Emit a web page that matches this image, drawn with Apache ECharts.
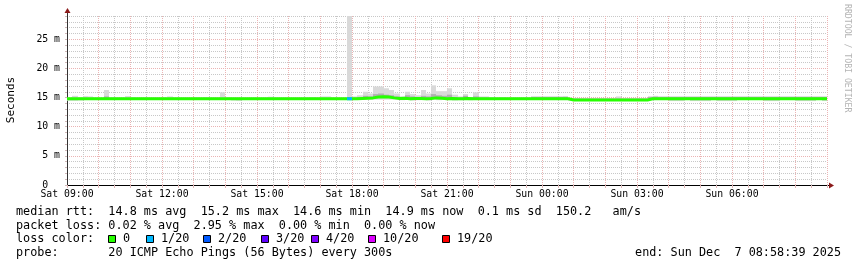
<!DOCTYPE html>
<html><head><meta charset="utf-8">
<script src="https://cdn.jsdelivr.net/npm/echarts@6/dist/echarts.min.js"></script>
<style>html,body{margin:0;padding:0;background:#fff}#c{width:857px;height:267px}</style>
</head><body><div id="c"></div>
<script>
// ---- data ----
const startMinute = 540;          // Sat 09:00, minutes after Sat 00:00
const endMinute = 1980;           // Sun 09:00
const binMinutes = 10;
const xTickLabels = ['Sat 09:00','Sat 12:00','Sat 15:00','Sat 18:00','Sat 21:00','Sun 00:00','Sun 03:00','Sun 06:00'];
const yTickStep = 5;

const median = [
 14.8,14.8,14.8,14.8,14.8,14.8,14.8,14.8,14.8,14.8,14.8,14.8,
 14.8,14.8,14.8,14.8,14.8,14.8,14.8,14.8,14.8,14.8,14.8,14.8,
 14.8,14.8,14.8,14.8,14.8,14.8,14.8,14.8,14.8,14.8,14.8,14.8,
 14.8,14.8,14.8,14.8,14.8,14.8,14.8,14.8,14.8,14.8,14.8,14.8,
 14.8,14.8,14.8,14.8,14.8,14.8,14.8,14.85,14.9,14.95,15.1,15.15,
 15.1,14.95,14.85,14.9,14.8,14.85,14.85,14.8,14.85,14.95,14.9,14.8,
 14.85,14.8,14.8,14.85,14.8,14.8,14.8,14.8,14.8,14.8,14.8,14.8,
 14.8,14.8,14.8,14.8,14.8,14.8,14.8,14.8,14.8,14.8,14.8,14.6,
 14.6,14.6,14.6,14.6,14.6,14.6,14.6,14.6,14.6,14.6,14.6,14.6,
 14.6,14.6,14.8,14.8,14.8,14.8,14.8,14.8,14.8,14.8,14.8,14.8,
 14.8,14.8,14.8,14.8,14.8,14.8,14.8,14.8,14.8,14.8,14.8,14.8,
 14.8,14.8,14.8,14.8,14.8,14.8,14.8,14.8,14.8,14.8,14.8,14.8
];
const smokeHi = [
 15.0,15.3,15.05,15.25,15.2,15.0,15.0,16.3,15.05,15.0,15.0,15.25,
 15.1,15.0,15.0,15.0,15.0,15.0,15.0,15.2,15.0,15.0,15.0,15.0,
 15.1,15.0,15.1,15.0,15.0,15.9,15.05,15.0,15.0,15.0,15.0,15.0,
 15.0,15.0,15.15,15.0,15.0,15.0,15.0,15.0,15.0,15.0,15.1,15.0,
 15.2,15.2,15.0,15.0,15.0,29.2,15.2,15.4,16.0,15.7,16.9,16.9,
 16.6,16.3,15.7,15.2,16.0,15.6,15.4,16.3,15.7,17.1,16.1,16.1,
 16.6,15.5,15.2,15.6,15.1,15.9,15.2,15.2,15.1,15.0,15.1,15.0,
 15.0,15.0,15.0,15.0,15.15,15.15,15.15,15.15,15.15,15.15,15.2,14.85,
 14.85,14.85,14.85,14.85,14.85,14.85,14.85,14.85,15.2,14.85,14.85,14.85,
 14.85,14.85,15.15,15.3,15.15,15.15,15.15,15.15,15.15,15.15,15.15,15.15,
 15.15,15.15,15.15,15.15,15.15,15.15,15.15,15.15,15.15,15.15,15.15,15.15,
 15.15,15.15,15.15,15.15,15.15,15.15,15.15,15.15,15.15,15.15,15.15,15.15
];
const smokeMid = [
 14.95,14.95,14.95,14.95,14.95,14.95,14.95,15.2,14.95,14.95,14.95,14.95,
 14.95,14.95,14.95,14.95,14.95,14.95,14.95,14.95,14.95,14.95,14.95,14.95,
 14.95,14.95,14.95,14.95,14.95,14.95,14.95,14.95,14.95,14.95,14.95,14.95,
 14.95,14.95,14.95,14.95,14.95,14.95,14.95,14.95,14.95,14.95,14.95,14.95,
 14.95,14.95,14.95,14.95,14.95,15.0,15.0,15.1,15.3,15.2,15.6,15.7,
 15.5,15.4,15.2,15.0,15.4,15.2,15.1,15.3,15.2,15.6,15.4,15.3,
 15.5,15.1,15.0,15.3,15.0,15.2,15.0,15.0,14.95,14.95,14.95,14.95,
 14.95,14.95,14.95,14.95,15.15,15.15,15.15,15.15,15.15,15.15,15.15,14.85,
 14.85,14.85,14.85,14.85,14.85,14.85,14.85,14.85,14.85,14.85,14.85,14.85,
 14.85,14.85,15.15,15.15,15.15,15.15,15.15,15.15,15.15,15.15,15.15,15.15,
 15.15,15.15,15.15,15.15,15.15,15.15,15.15,15.15,15.15,15.15,15.15,15.15,
 15.15,15.15,15.15,15.15,15.15,15.15,15.15,15.15,15.15,15.15,15.15,15.15
];
const smokeLo = [
 14.45,14.45,14.5,14.6,14.65,14.65,14.65,14.6,14.65,14.65,14.65,14.65,
 14.65,14.65,14.65,14.65,14.65,14.65,14.65,14.65,14.65,14.65,14.65,14.65,
 14.65,14.65,14.65,14.65,14.65,14.65,14.65,14.5,14.45,14.65,14.65,14.65,
 14.65,14.65,14.65,14.65,14.65,14.65,14.65,14.65,14.65,14.65,14.65,14.65,
 14.65,14.65,14.65,14.65,14.65,14.65,14.65,14.65,14.65,14.65,14.65,14.65,
 14.65,14.65,14.65,14.55,14.65,14.5,14.55,14.65,14.5,14.65,14.55,14.65,
 14.65,14.5,14.55,14.65,14.55,14.65,14.65,14.65,14.65,14.65,14.65,14.65,
 14.65,14.65,14.65,14.65,14.65,14.65,14.65,14.65,14.65,14.65,14.65,14.45,
 14.45,14.45,14.45,14.45,14.45,14.45,14.45,14.45,14.45,14.45,14.45,14.45,
 14.45,14.45,14.65,14.65,14.65,14.65,14.4,14.4,14.4,14.65,14.4,14.4,
 14.4,14.4,14.65,14.4,14.4,14.4,14.4,14.65,14.65,14.65,14.65,14.65,
 14.4,14.4,14.4,14.65,14.65,14.65,14.4,14.4,14.4,14.4,14.65,14.4
];
const lostPings = [
 0,0,0,0,0,0,0,0,0,0,0,0, 0,0,0,0,0,0,0,0,0,0,0,0,
 0,0,0,0,0,0,0,0,0,0,0,0, 0,0,0,0,0,0,0,0,0,0,0,0,
 0,0,0,0,0,1,0,0,0,0,0,0, 0,0,0,0,0,0,0,0,0,0,0,0,
 0,0,0,0,0,0,0,0,0,0,0,0, 0,0,0,0,0,0,0,0,0,0,0,0,
 0,0,0,0,0,0,0,0,0,0,0,0, 0,0,0,0,0,0,0,0,0,0,0,0,
 0,0,0,0,0,0,0,0,0,0,0,0, 0,0,0,0,0,0,0,0,0,0,0,0
];
const lossColors = ['#26ff00','#00b8ff','#0059ff','#5e00ff','#7e00ff','#dd00ff','#ff0000'];
const lossLabels = ['0','1/20','2/20','3/20','4/20','10/20','19/20'];
const statLines = [
 'median rtt:  14.8 ms avg  15.2 ms max  14.6 ms min  14.9 ms now  0.1 ms sd  150.2   am/s',
 'packet loss: 0.02 % avg  2.95 % max  0.00 % min  0.00 % now',
 'loss color:',
 'probe:       20 ICMP Echo Pings (56 Bytes) every 300s'
];
const endText = 'end: Sun Dec  7 08:58:39 2025';
const yAxisTitle = 'Seconds';
const watermark = 'RRDTOOL / TOBI OETIKER';

// ---- chart ----
const times = median.map((_, i) => startMinute + i * binMinutes);
function lossIndex(n){ return n<=0?0:n<=3?n:n<10?4:n<19?5:6; }

const MONO = '"DejaVu Sans Mono", monospace';
const chart = echarts.init(document.getElementById('c'), null, {renderer:'canvas'});
const GRID_L = 67, GRID_T = 16, GRID_W = 760, GRID_H = 169;
const minorCol = '#c8c8c8', majorCol = '#ebb4b4';

const graphics = [];
// axis arrows
graphics.push({type:'line', shape:{x1:GRID_L+0.5,y1:GRID_T,x2:GRID_L+0.5,y2:GRID_T-4}, style:{stroke:'#333',lineWidth:1}, silent:true});
graphics.push({type:'polygon', shape:{points:[[GRID_L-2.5,GRID_T-3],[GRID_L+3.5,GRID_T-3],[GRID_L+0.5,GRID_T-8]]}, style:{fill:'#8b1a1a'}, silent:true});
graphics.push({type:'line', shape:{x1:GRID_L+GRID_W,y1:GRID_T+GRID_H+0.5,x2:GRID_L+GRID_W+3,y2:GRID_T+GRID_H+0.5}, style:{stroke:'#000',lineWidth:1}, silent:true});
graphics.push({type:'polygon', shape:{points:[[GRID_L+GRID_W+2,GRID_T+GRID_H-2.5],[GRID_L+GRID_W+2,GRID_T+GRID_H+3.5],[GRID_L+GRID_W+7,GRID_T+GRID_H+0.5]]}, style:{fill:'#8b1a1a'}, silent:true});
// y title
graphics.push({type:'text', x:11, y:100, rotation:Math.PI/2, silent:true,
  style:{text:yAxisTitle, font:'11px '+MONO, fill:'#000', align:'center', verticalAlign:'middle', textAlign:'center', textVerticalAlign:'middle'}});
// watermark
graphics.push({type:'text', x:847, y:4, rotation:-Math.PI/2, silent:true,
  style:{text:watermark, font:'8.2px '+MONO, fill:'#b4b4b4', align:'left', verticalAlign:'middle', textAlign:'left', textVerticalAlign:'middle'}});
// stats lines
const rowY = [211.5, 225.5, 239.3, 253];
statLines.forEach((s, i) => {
  graphics.push({type:'text', x:16, y:rowY[i], silent:true,
    style:{text:s, font:'11.8px '+MONO, fill:'#000', align:'left', verticalAlign:'middle', textAlign:'left', textVerticalAlign:'middle'}});
});
graphics.push({type:'text', x:841, y:rowY[3], silent:true,
  style:{text:endText, font:'11.8px '+MONO, fill:'#000', align:'right', verticalAlign:'middle', textAlign:'right', textVerticalAlign:'middle'}});
// loss colour legend
const boxX = [108.5, 146.5, 203.5, 261.5, 311.5, 368.5, 442.5];
lossLabels.forEach((lab, i) => {
  graphics.push({type:'rect', shape:{x:boxX[i], y:235.5, width:7, height:7}, silent:true,
    style:{fill:lossColors[i], stroke:'#000', lineWidth:1}});
  graphics.push({type:'text', x:boxX[i]+14.5, y:rowY[2], silent:true,
    style:{text:lab, font:'11.8px '+MONO, fill:'#000', align:'left', verticalAlign:'middle', textAlign:'left', textVerticalAlign:'middle'}});
});

const smokeData = times.map((t, i) => [t, smokeLo[i], smokeHi[i], smokeMid[i], median[i]]);
const medianData = times.map((t, i) => [t, median[i]]);
medianData.push([endMinute, median[median.length-1]]);
const lossData = [];
times.forEach((t, i) => { if (lostPings[i] > 0) lossData.push([t, median[i], lossIndex(lostPings[i])]); });

const option = {
  animation: false,
  backgroundColor: '#ffffff',
  grid: {left: GRID_L, top: GRID_T, width: GRID_W, height: GRID_H, containLabel: false},
  xAxis: {
    type: 'value', min: startMinute, max: endMinute, interval: 30,
    axisLine: {show: true, onZero: false, lineStyle: {color: '#000', width: 1}},
    axisTick: {show: true, length: 3, lineStyle: {color: '#e0b8b8'}},
    splitLine: {show: true, lineStyle: {color: [majorCol, minorCol], type: [1, 1], width: 1}},
    axisLabel: {
      margin: 4, fontFamily: MONO, fontSize: 9.8, color: '#000',
      formatter: v => { const k = (v - startMinute) / 180; return Number.isInteger(k) && k < xTickLabels.length ? xTickLabels[k] : ''; }
    }
  },
  yAxis: {
    type: 'value', min: 0, max: 29, interval: 1,
    axisLine: {show: true, onZero: false, lineStyle: {color: '#333', width: 1}},
    axisTick: {show: true, length: 2, lineStyle: {color: '#d0b8b8'}},
    splitLine: {show: true, lineStyle: {color: [majorCol, minorCol, minorCol, minorCol, minorCol], type: [1, 1], width: 1}},
    axisLabel: {
      margin: 7, fontFamily: MONO, fontSize: 9.8, color: '#000', align: 'right',
      formatter: v => v % yTickStep !== 0 ? '' : (v === 0 ? '0  ' : v + ' m')
    }
  },
  graphic: graphics,
  series: [
    {
      type: 'custom', z: 1, silent: true, clip: true,
      encode: {x: 0, y: [1, 2]},
      data: smokeData,
      renderItem: (params, api) => {
        const t = api.value(0), lo = api.value(1), hi = api.value(2), mid = api.value(3), med = api.value(4);
        const x0 = Math.round(api.coord([t, 0])[0]);
        const x1 = Math.round(api.coord([t + binMinutes, 0])[0]);
        const yLo = api.coord([t, lo])[1], yHi = api.coord([t, hi])[1];
        const yMid = api.coord([t, mid])[1], yMed = api.coord([t, med])[1];
        return {type: 'group', children: [
          {type: 'rect', shape: {x: x0, y: yHi, width: x1 - x0, height: yLo - yHi}, style: {fill: '#d9d9d9'}},
          {type: 'rect', shape: {x: x0, y: yMid, width: x1 - x0, height: Math.max(0, yMed - yMid)}, style: {fill: '#b0b0b0'}}
        ]};
      }
    },
    {
      type: 'line', z: 3, step: 'end', showSymbol: false, silent: true,
      data: medianData,
      lineStyle: {color: lossColors[0], width: 3}
    },
    {
      type: 'custom', z: 4, silent: true, clip: true,
      encode: {x: 0, y: 1},
      data: lossData,
      renderItem: (params, api) => {
        const t = api.value(0), med = api.value(1), li = api.value(2);
        const x0 = Math.round(api.coord([t, 0])[0]);
        const x1 = Math.round(api.coord([t + binMinutes, 0])[0]);
        const y = api.coord([t, med])[1];
        return {type: 'rect', shape: {x: x0, y: y - 1.5, width: x1 - x0, height: 3}, style: {fill: lossColors[li]}};
      }
    }
  ]
};
chart.setOption(option);
</script>
</body></html>
